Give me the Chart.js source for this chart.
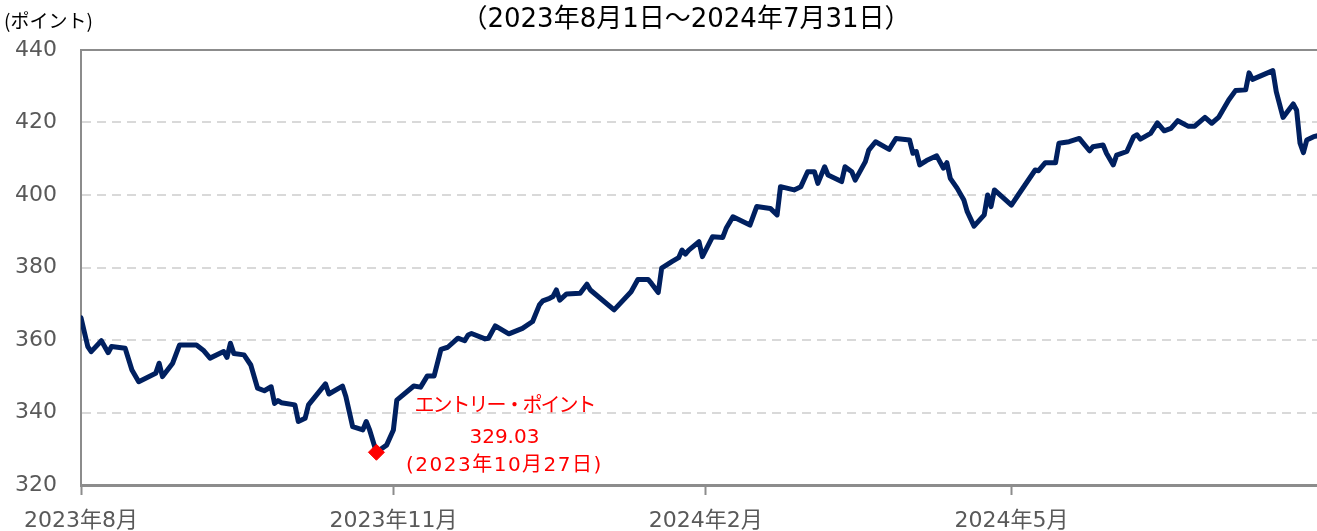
<!DOCTYPE html>
<html>
<head>
<meta charset="utf-8">
<script src="https://cdn.jsdelivr.net/npm/chart.js@4.4.1/dist/chart.umd.min.js"></script>
<style>
  body { margin: 0; background: #fff; }
</style>
</head>
<body>
<canvas id="indexChart" width="1317" height="531"></canvas>
<script>
// daily index level (points)
const dates = [
    "2023-08-01", "2023-08-03", "2023-08-04", "2023-08-07", "2023-08-09", "2023-08-10", "2023-08-14", "2023-08-16",
    "2023-08-18", "2023-08-23", "2023-08-24", "2023-08-25", "2023-08-28", "2023-08-30", "2023-09-04", "2023-09-06",
    "2023-09-08", "2023-09-12", "2023-09-13", "2023-09-14", "2023-09-15", "2023-09-18", "2023-09-20", "2023-09-22",
    "2023-09-24", "2023-09-26", "2023-09-27", "2023-09-28", "2023-09-29", "2023-10-03", "2023-10-04", "2023-10-06",
    "2023-10-07", "2023-10-12", "2023-10-13", "2023-10-17", "2023-10-18", "2023-10-20", "2023-10-23", "2023-10-24",
    "2023-10-25", "2023-10-27", "2023-10-30", "2023-11-01", "2023-11-02", "2023-11-07", "2023-11-09", "2023-11-11",
    "2023-11-13", "2023-11-15", "2023-11-17", "2023-11-20", "2023-11-22", "2023-11-23", "2023-11-24", "2023-11-28",
    "2023-11-29", "2023-12-01", "2023-12-05", "2023-12-09", "2023-12-12", "2023-12-14", "2023-12-15", "2023-12-17",
    "2023-12-18", "2023-12-19", "2023-12-20", "2023-12-22", "2023-12-26", "2023-12-28", "2023-12-29", "2024-01-05",
    "2024-01-10", "2024-01-12", "2024-01-15", "2024-01-16", "2024-01-18", "2024-01-19", "2024-01-22", "2024-01-24",
    "2024-01-25", "2024-01-26", "2024-01-27", "2024-01-30", "2024-01-31", "2024-02-03", "2024-02-06", "2024-02-07",
    "2024-02-09", "2024-02-14", "2024-02-16", "2024-02-20", "2024-02-22", "2024-02-23", "2024-02-27", "2024-02-29",
    "2024-03-02", "2024-03-04", "2024-03-05", "2024-03-07", "2024-03-08", "2024-03-12", "2024-03-13", "2024-03-15",
    "2024-03-16", "2024-03-19", "2024-03-20", "2024-03-22", "2024-03-26", "2024-03-28", "2024-04-01", "2024-04-02",
    "2024-04-03", "2024-04-04", "2024-04-06", "2024-04-09", "2024-04-11", "2024-04-12", "2024-04-13", "2024-04-15",
    "2024-04-17", "2024-04-18", "2024-04-20", "2024-04-23", "2024-04-24", "2024-04-25", "2024-04-26", "2024-05-01",
    "2024-05-03", "2024-05-08", "2024-05-09", "2024-05-11", "2024-05-14", "2024-05-15", "2024-05-18", "2024-05-21",
    "2024-05-24", "2024-05-25", "2024-05-28", "2024-05-29", "2024-05-31", "2024-06-01", "2024-06-04", "2024-06-06",
    "2024-06-07", "2024-06-08", "2024-06-11", "2024-06-13", "2024-06-15", "2024-06-17", "2024-06-19", "2024-06-22",
    "2024-06-24", "2024-06-27", "2024-06-29", "2024-07-01", "2024-07-04", "2024-07-06", "2024-07-09", "2024-07-10",
    "2024-07-11", "2024-07-17", "2024-07-18", "2024-07-20", "2024-07-23", "2024-07-24", "2024-07-25", "2024-07-26",
    "2024-07-27", "2024-07-29", "2024-07-31"
];
const values = [
    366.1, 358.2, 356.8, 359.8, 356.5, 358.2, 357.7, 351.7,
    348.5, 350.8, 353.6, 349.9, 353.6, 358.6, 358.6, 357.2,
    355.0, 356.8, 355.2, 359.1, 356.3, 355.9, 353.1, 346.7,
    346.0, 347.1, 342.5, 343.3, 342.7, 342.1, 337.5, 338.4,
    342.1, 347.9, 345.1, 347.3, 344.4, 336.1, 335.2, 337.5,
    335.2, 329.03, 331.0, 335.2, 343.4, 347.3, 347.0, 350.1,
    350.1, 357.4, 358.0, 360.5, 359.8, 361.4, 361.8, 360.3,
    360.5, 363.9, 361.7, 363.2, 365.1, 369.7, 370.8, 371.5,
    372.0, 373.8, 371.0, 372.7, 372.9, 375.4, 373.8, 368.3,
    373.3, 376.7, 376.7, 375.6, 373.1, 379.8, 381.6, 382.7,
    384.8, 383.7, 384.8, 387.1, 383.0, 388.5, 388.3, 390.8,
    394.0, 391.7, 396.8, 396.3, 394.5, 402.3, 401.4, 402.3,
    406.4, 406.4, 403.2, 407.8, 405.5, 403.7, 407.8, 406.4,
    404.1, 409.2, 412.4, 414.7, 412.6, 415.6, 415.2, 411.5,
    412.0, 408.3, 409.5, 410.8, 407.4, 408.9, 404.6, 401.9,
    398.6, 395.4, 391.4, 394.5, 400.0, 396.8, 401.4, 397.2,
    400.0, 406.9, 406.7, 408.9, 408.9, 414.3, 414.7, 415.6,
    412.2, 413.3, 413.8, 411.5, 408.3, 411.0, 412.0, 416.1,
    416.6, 415.4, 417.0, 419.9, 417.7, 418.4, 420.5, 419.0,
    419.0, 421.4, 419.8, 421.4, 426.2, 428.8, 429.0, 433.7,
    431.9, 434.3, 428.5, 421.4, 425.1, 423.4, 414.3, 411.7,
    415.2, 416.1, 416.5
];

const monthTicks = ["2023-08-01", "2023-11-01", "2024-02-01", "2024-05-01"];
const monthLabels = ["2023年8月", "2023年11月", "2024年2月", "2024年5月"];
const yTicks = [320, 340, 360, 380, 400, 420, 440];

const entryDate = "2023-10-27";
const entryValue = 329.03;
const entryLines = ["エントリー・ポイント", "329.03", "(2023年10月27日)"];

const titleText = "（2023年8月1日～2024年7月31日）";
const unitText = "(ポイント)";

const startMs = Date.parse(dates[0]);
function dayOf(d) {
    return Math.round((Date.parse(d) - startMs) / 86400000);
}

const lineData = dates.map((d, i) => ({ x: dayOf(d), y: values[i] }));
const tickDays = monthTicks.map(dayOf);

const FONT_MIX = "'DejaVu Sans', 'Noto Sans CJK JP', sans-serif";
const GRAY = "#8c8c8c";

const textPlugin = {
    id: "textPlugin",
    afterDraw(chart) {
        const c = chart.ctx;
        const xs = chart.scales.x, ys = chart.scales.y;
        c.save();
        // title + unit
        c.fillStyle = "#000";
        c.textBaseline = "middle";
        c.textAlign = "center";
        c.font = "26px " + FONT_MIX;
        c.fillText(titleText, 686, 20);
        c.textAlign = "left";
        c.font = "19px 'Noto Sans CJK JP', sans-serif";
        c.fillText(unitText, 4, 21);
        // entry point note
        const px = xs.getPixelForValue(dayOf(entryDate));
        const py = ys.getPixelForValue(entryValue);
        c.fillStyle = "#ff0000";
        c.textAlign = "center";
        c.font = "20px " + FONT_MIX;
        const offs = [-45, -14, 14];
        const spacing = ["-2px", "0px", "1.5px"];
        entryLines.forEach((t, i) => {
            c.letterSpacing = spacing[i];
            c.fillText(t, px + 128, py + offs[i]);
        });
        c.letterSpacing = "0px";
        c.restore();
    }
};

const ctx = document.getElementById("indexChart");

new Chart(ctx, {
    type: "line",
    data: {
        datasets: [{
            data: lineData,
            borderColor: "#002060",
            borderWidth: 5,
            pointRadius: 0,
            tension: 0,
            borderJoinStyle: "round",
            borderCapStyle: "round",
            order: 2
        }, {
            data: [{ x: dayOf(entryDate), y: entryValue }],
            showLine: false,
            pointStyle: "rectRot",
            pointRadius: 8,
            backgroundColor: "#ff0000",
            borderColor: "#ff0000",
            borderWidth: 1,
            order: 1
        }]
    },
    options: {
        responsive: false,
        animation: false,
        layout: { autoPadding: false, padding: { top: 50, right: 0, left: 0, bottom: 0 } },
        plugins: {
            legend: { display: false },
            tooltip: { enabled: false }
        },
        scales: {
            x: {
                type: "linear",
                min: 0,
                max: 364,
                afterBuildTicks: (scale) => {
                    scale.ticks = tickDays.map(v => ({ value: v }));
                },
                afterFit: (scale) => {
                    scale.height = 46;
                    scale.paddingRight = 0;
                    scale.paddingLeft = 0;
                },
                ticks: {
                    autoSkip: false,
                    maxRotation: 0,
                    padding: 13,
                    color: "#595959",
                    font: { family: FONT_MIX, size: 22 },
                    callback: (v) => monthLabels[tickDays.indexOf(v)]
                },
                grid: {
                    drawOnChartArea: false,
                    drawTicks: true,
                    tickLength: 10,
                    tickWidth: 2,
                    tickColor: GRAY,
                    color: GRAY
                },
                border: { color: GRAY, width: 3 }
            },
            y: {
                min: 320,
                max: 440,
                afterBuildTicks: (scale) => {
                    scale.ticks = yTicks.map(v => ({ value: v }));
                },
                afterFit: (scale) => { scale.width = 81; },
                ticks: {
                    padding: 24,
                    color: "#595959",
                    font: { family: FONT_MIX, size: 22 }
                },
                grid: {
                    drawTicks: false,
                    lineWidth: 2,
                    color: (c) => {
                        if (!c.tick) return "#d9d9d9";
                        if (c.tick.value === 440) return GRAY;
                        if (c.tick.value === 320) return "rgba(0,0,0,0)";
                        return "#d9d9d9";
                    }
                },
                border: {
                    color: GRAY,
                    width: 2,
                    dash: (c) => (c.tick && c.tick.value !== 440) ? [9, 6] : []
                }
            }
        }
    },
    plugins: [textPlugin]
});
</script>
</body>
</html>
